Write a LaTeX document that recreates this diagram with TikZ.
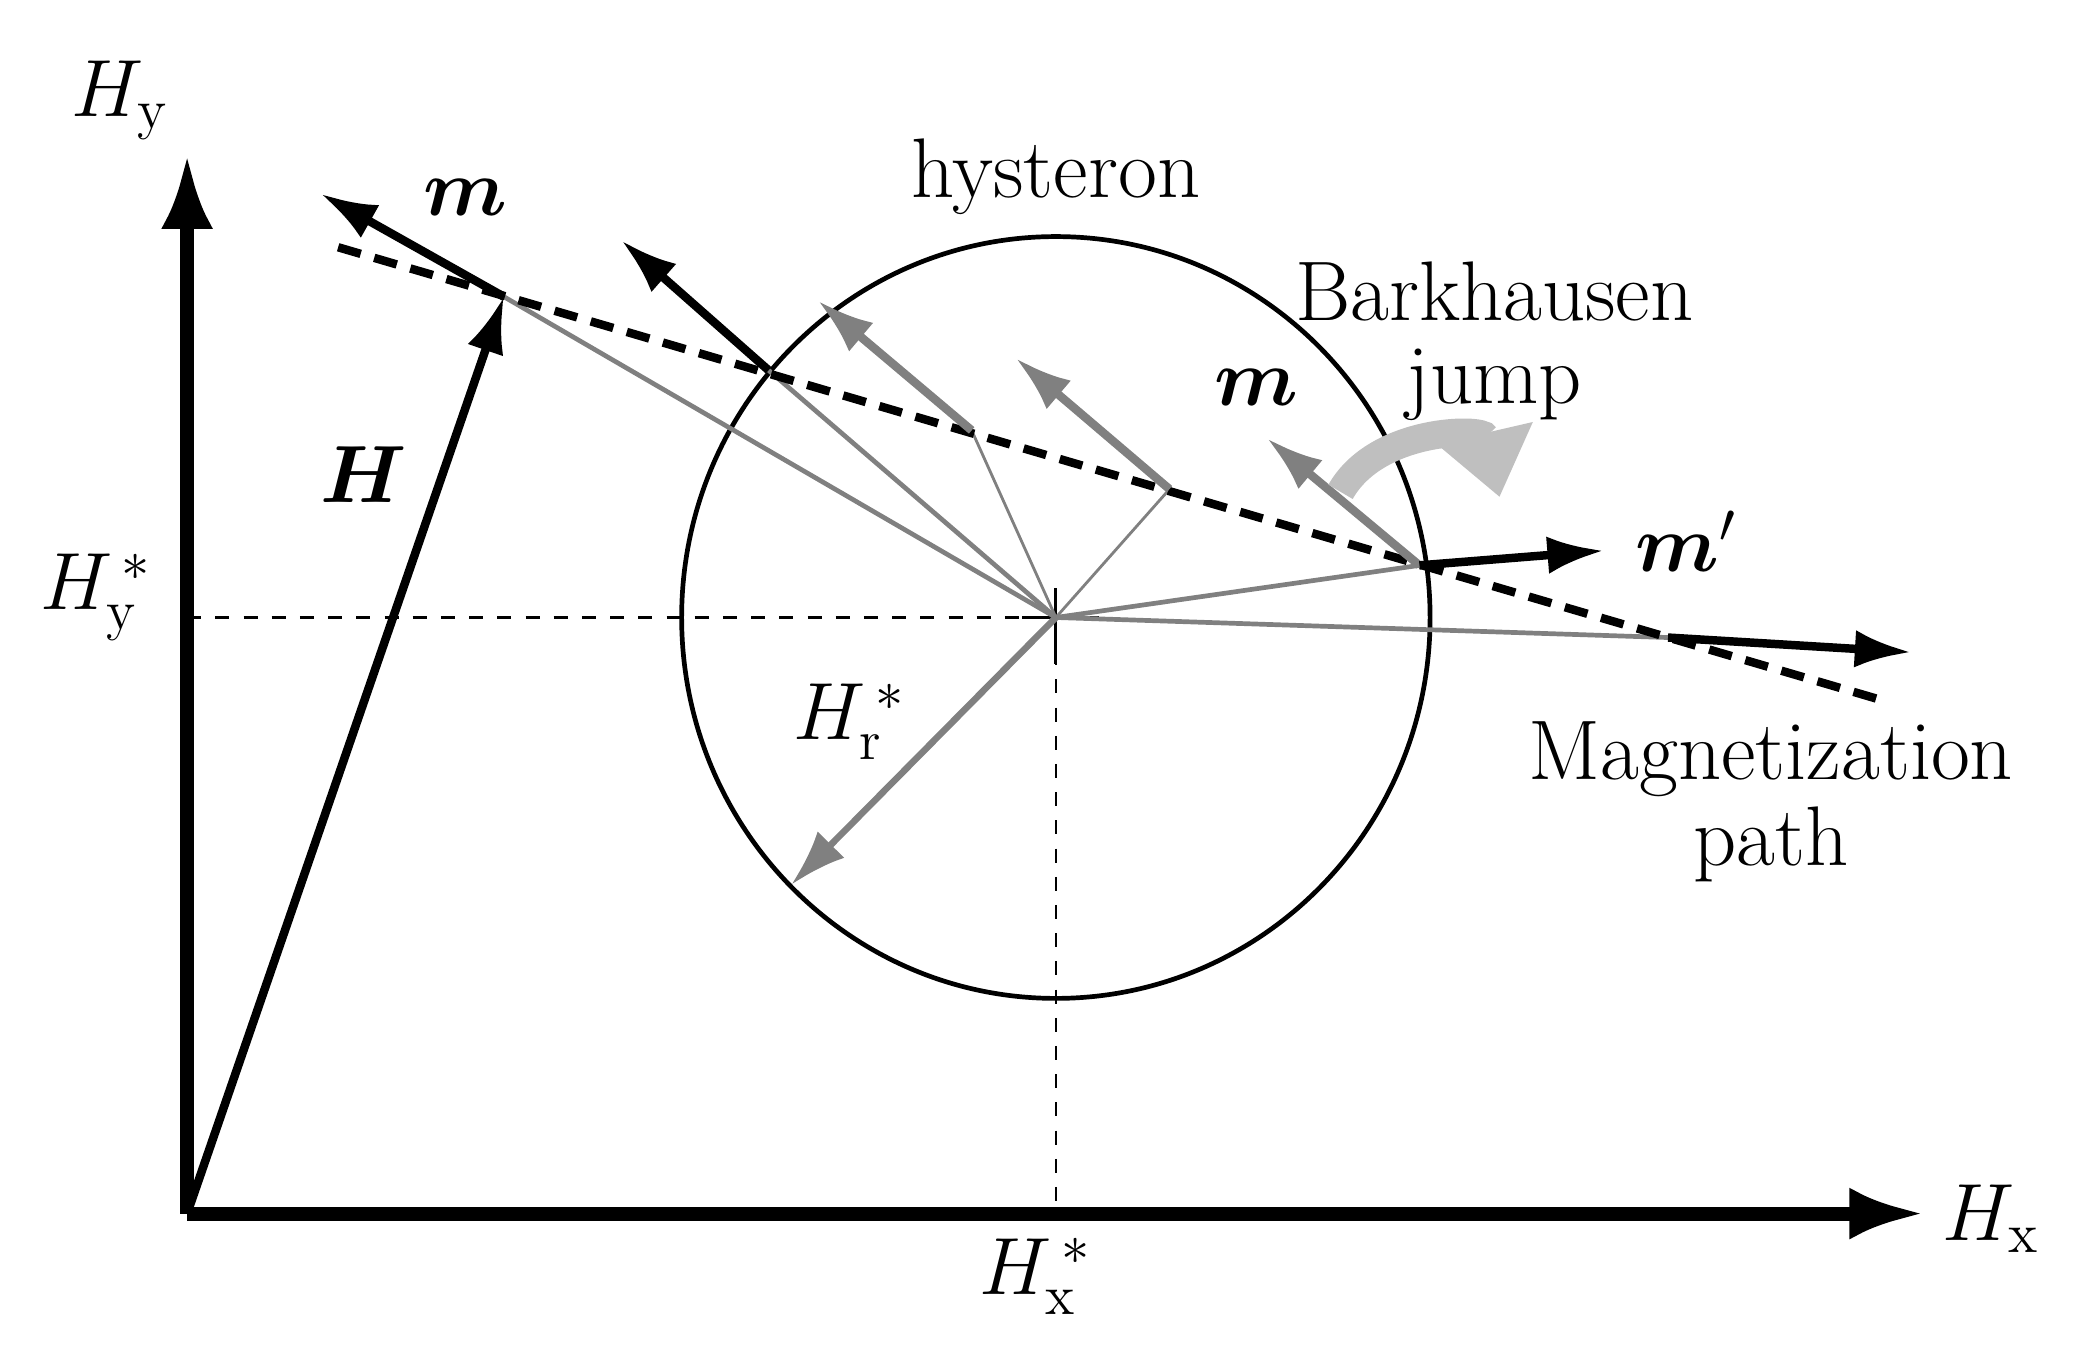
\documentclass[tikz,border=0pt]{standalone}
\usepackage{amsmath,bm}
\usetikzlibrary{arrows.meta}
\begin{document}
\begin{tikzpicture}[x=0.01cm,y=-0.01cm,
  blk/.style={line width=1.8pt,-{Latex[length=12pt,width=8pt]}},
  gry/.style={line width=1.8pt,draw=gray,-{Latex[length=12pt,width=8pt]}},
  thin gray/.style={draw=gray,line width=0.6pt},
  lbl/.style={font=\fontsize{18}{22}\selectfont,inner sep=0pt}]
\useasboundingbox (0,0) rectangle (1560,1021);
\coordinate (O) at (140,908);
\coordinate (XE) at (1440,908);
\coordinate (YE) at (140,115);
\coordinate (C) at (790,462);
\coordinate (D1) at (253,185); \coordinate (D2) at (1405,523);
\coordinate (P1) at (377,222); \coordinate (P2) at (575,277);
\coordinate (P3) at (727,322); \coordinate (P4) at (875,366);
\coordinate (P5) at (1062,423); \coordinate (P6) at (1248,477);
\coordinate (HYS) at (140,462); \coordinate (HXS) at (790,908);
\coordinate (R) at (592,662);
% circle
\draw[line width=1pt] (C) ellipse (280 and 285);
% dashed guides
\draw[dashed,line width=0.5pt] (HYS) -- (C) -- (HXS);
\draw[line width=0.6pt] (790,440) -- (790,497) (765,462) -- (822,462);
% spokes
\foreach \p in {P1,P2,P5,P6} \draw[thin gray,line width=1pt] (C) -- (\p);
\foreach \p in {P3,P4} \draw[thin gray] (C) -- (\p);
% dashed path
\draw[line width=1.8pt,dash pattern=on 5pt off 3pt] (D1) -- (D2);
% axes
\draw[line width=3pt,-{Latex[length=16pt,width=11pt]}] (O) -- (XE);
\draw[line width=3pt,-{Latex[length=16pt,width=11pt]}] (O) -- (YE);
% H
\draw[blk] (O) -- (P1);
% m arrows
\draw[blk] (P1) -- (240,145);
\draw[blk] (P2) -- (465,180);
\draw[gry] (P3) -- (612,225);
\draw[gry] (P4) -- (760,268);
\draw[gry] (P5) -- (948,328);
\draw[blk] (P5) -- (1200,412);
\draw[blk] (P6) -- (1430,488);
\draw[gry,line width=1.4pt] (C) -- (R);
% Barkhausen curved arrow
\draw[line width=6pt,draw=black!25,-{Triangle[length=14pt,width=20pt]}] (1003,368) .. controls (1030,320) and (1110,320) .. (1122,372);
% labels
\node[lbl] at (90,75) {$H_{\mathrm{y}}$};
\node[lbl] at (348,148) {$\bm{m}$};
\node[lbl] at (790,132) {hysteron};
\node[lbl] at (1118,218) {Barkhausen};
\node[lbl] at (1118,288) {jump};
\node[lbl] at (940,290) {$\bm{m}$};
\node[lbl] at (1262,405) {$\bm{m}'$};
\node[lbl] at (272,355) {$\bm{H}$};
\node[lbl] at (72,447) {$H_{\mathrm{y}}^{\,*}$};
\node[lbl] at (636,540) {$H_{\mathrm{r}}^{\,*}$};
\node[lbl] at (1325,568) {Magnetization};
\node[lbl] at (1325,632) {path};
\node[lbl] at (1490,912) {$H_{\mathrm{x}}$};
\node[lbl] at (775,955) {$H_{\mathrm{x}}^{\,*}$};
\end{tikzpicture}
\end{document}
